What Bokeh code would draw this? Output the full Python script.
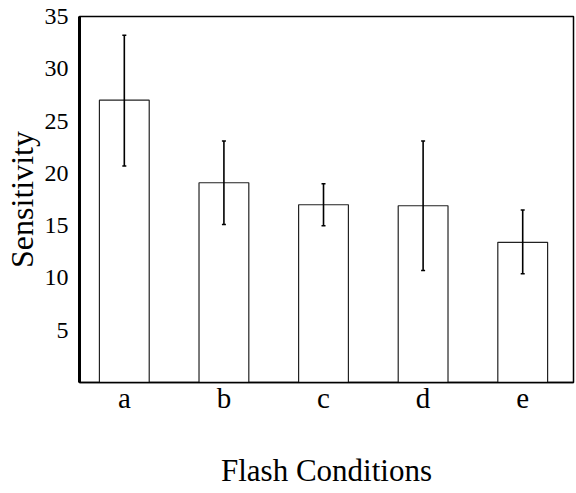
from bokeh.plotting import figure
from bokeh.models import Range1d, FixedTicker, ColumnDataSource, Whisker, TeeHead
from bokeh.embed import file_html
from bokeh.resources import INLINE

categories = ["a", "b", "c", "d", "e"]
sensitivity = [27.0, 19.1, 17.0, 16.9, 13.4]
err_upper = [33.2, 23.1, 19.0, 23.1, 16.5]
err_lower = [20.7, 15.1, 15.0, 10.7, 10.4]
y_ticks = [0, 5, 10, 15, 20, 25, 30, 35]

positions = list(range(len(categories)))
src = ColumnDataSource(dict(x=positions, top=sensitivity, upper=err_upper, lower=err_lower))

FONT = "Liberation Serif"

p = figure(width=576, height=493, output_backend="svg", toolbar_location=None,
           x_range=Range1d(-0.45, 4.51), y_range=Range1d(0, 35),
           min_border_left=76, min_border_right=3, min_border_top=16, min_border_bottom=111)
p.background_fill_color = "white"
p.border_fill_color = "white"
p.outline_line_color = "black"
p.outline_line_width = 1.5
p.grid.visible = False

p.vbar(x="x", top="top", width=0.5, bottom=0, source=src,
       fill_color="white", line_color="#222222", line_width=1.2)

w = Whisker(base="x", upper="upper", lower="lower", source=src, level="overlay",
            line_color="black", line_width=1.6,
            upper_head=TeeHead(size=4, line_color="black", line_width=1.5),
            lower_head=TeeHead(size=4, line_color="black", line_width=1.5))
p.add_layout(w)

# axes
p.xaxis.ticker = FixedTicker(ticks=positions)
p.xaxis.major_label_overrides = {i: c for i, c in zip(positions, categories)}
p.xaxis.axis_label = "Flash Conditions"
p.xaxis.axis_label_text_font = FONT
p.xaxis.axis_label_text_font_style = "normal"
p.xaxis.axis_label_text_font_size = "31px"
p.xaxis.axis_label_text_color = "black"
p.xaxis.axis_label_standoff = 36
p.xaxis.major_label_text_font = FONT
p.xaxis.major_label_text_font_size = "29px"
p.xaxis.major_label_text_color = "black"
p.xaxis.major_label_standoff = -7
p.xaxis.major_tick_line_color = None
p.xaxis.minor_tick_line_color = None
p.xaxis.axis_line_width = 1.5
p.xaxis.axis_line_color = "black"

p.yaxis.ticker = FixedTicker(ticks=y_ticks)
p.yaxis.major_label_overrides = {0: ""}
p.yaxis.axis_label = "Sensitivity"
p.yaxis.axis_label_text_font = FONT
p.yaxis.axis_label_text_font_style = "normal"
p.yaxis.axis_label_text_font_size = "32px"
p.yaxis.axis_label_text_color = "black"
p.yaxis.axis_label_standoff = 2
p.yaxis.major_label_text_font = FONT
p.yaxis.major_label_text_font_size = "24px"
p.yaxis.major_label_text_color = "black"
p.yaxis.major_label_standoff = 5
p.yaxis.major_tick_line_color = None
p.yaxis.minor_tick_line_color = None
p.yaxis.axis_line_width = 3
p.yaxis.axis_line_color = "black"

open("out.html", "w").write(file_html(p, INLINE))
